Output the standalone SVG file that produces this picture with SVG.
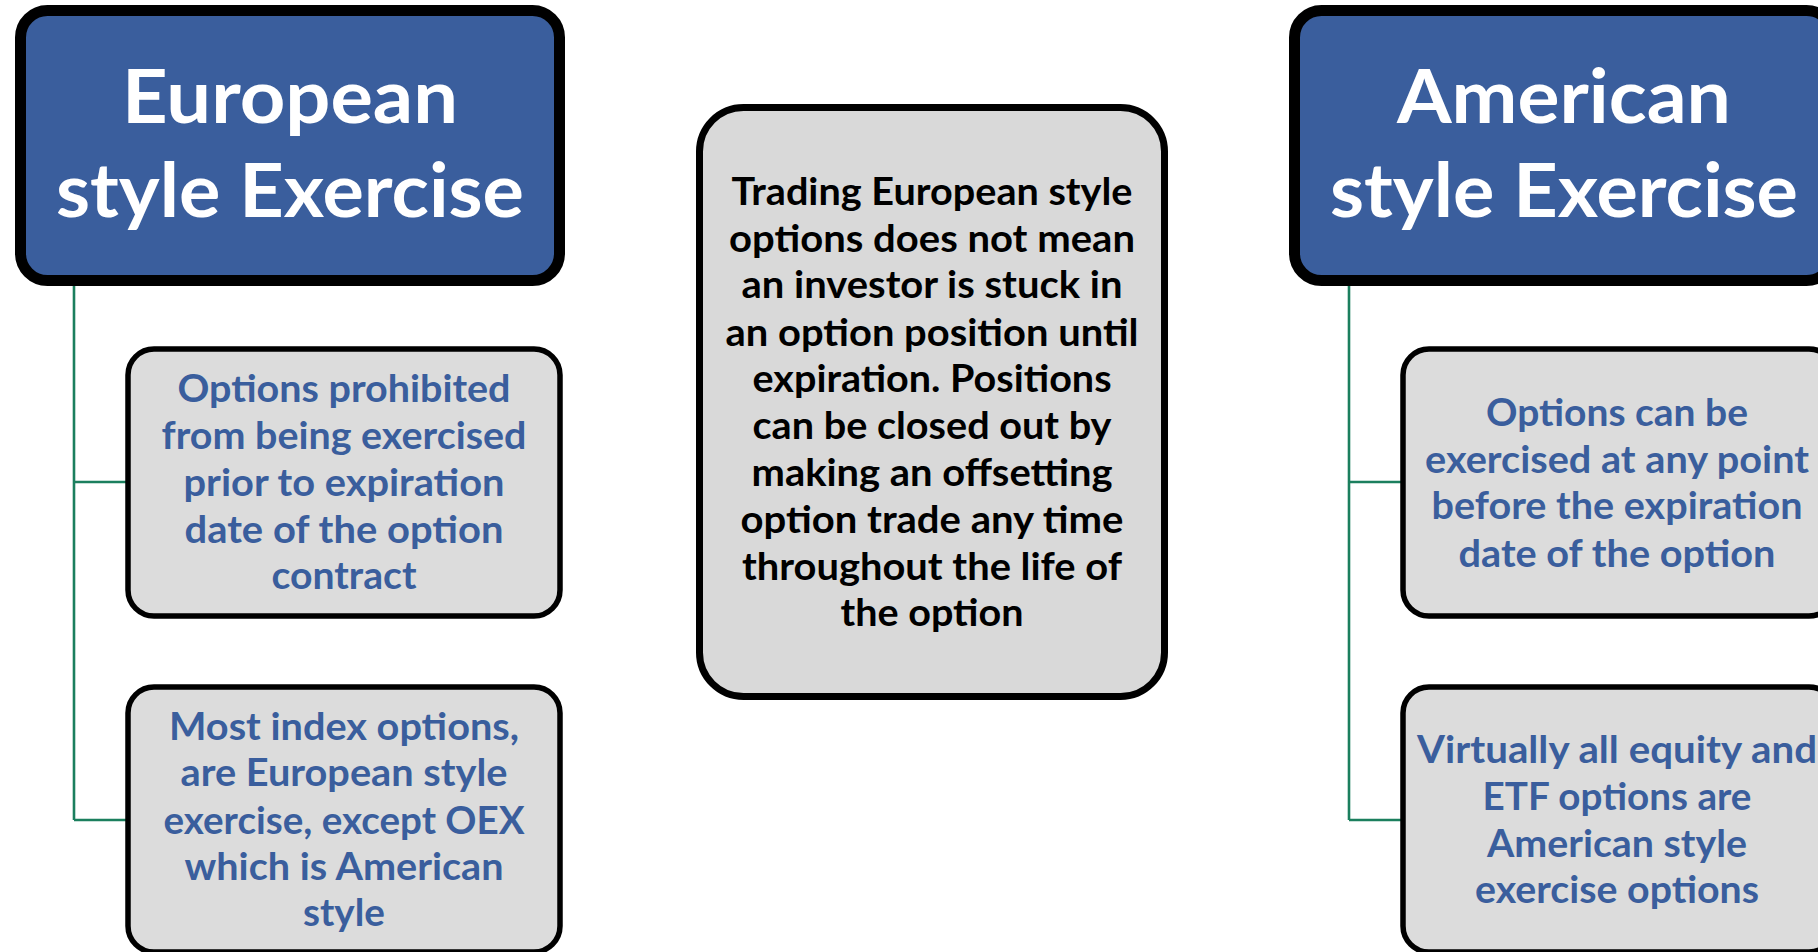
<svg xmlns="http://www.w3.org/2000/svg" width="1818" height="952" viewBox="0 0 1818 952">
  <style>
    .head { fill: #3a5e9d; stroke: #000; stroke-width: 11; }
    .sub { fill: #dcdcdc; stroke: #000; stroke-width: 5.5; }
    .mid { fill: #d9d9d9; stroke: #000; stroke-width: 7; }
    .link { fill: none; stroke: #1b7f5e; stroke-width: 2.6; }
    text { font-family: Lato, "Liberation Sans", sans-serif; font-weight: bold; text-anchor: middle; }
    .ht { fill: #fff; font-size: 75px; }
    .st { fill: #3a5e9d; font-size: 38px; }
    .mt { fill: #000; font-size: 38px; }
  </style>

  <g id="connectors">
    <path class="link" d="M74,282 V820 M74,482 H128 M74,820 H128"/>
    <path class="link" d="M1349,282 V820 M1349,482 H1403 M1349,820 H1403"/>
  </g>

  <g id="european-header">
    <rect class="head" x="20.5" y="10.5" width="539" height="270" rx="27"/>
    <text class="ht" x="290" y="123" textLength="336" lengthAdjust="spacingAndGlyphs">European</text>
    <text class="ht" x="290" y="217" textLength="468" lengthAdjust="spacingAndGlyphs">style Exercise</text>
  </g>

  <g id="european-prohibited">
    <rect class="sub" x="128" y="349" width="432" height="267" rx="26"/>
    <text class="st" x="344" y="402" textLength="333" lengthAdjust="spacingAndGlyphs">Options prohibited</text>
    <text class="st" x="344" y="449" textLength="365" lengthAdjust="spacingAndGlyphs">from being exercised</text>
    <text class="st" x="344" y="496" textLength="321" lengthAdjust="spacingAndGlyphs">prior to expiration</text>
    <text class="st" x="344" y="543" textLength="319" lengthAdjust="spacingAndGlyphs">date of the option</text>
    <text class="st" x="344" y="589" textLength="145" lengthAdjust="spacingAndGlyphs">contract</text>
  </g>

  <g id="european-index">
    <rect class="sub" x="128" y="687" width="432" height="265" rx="26"/>
    <text class="st" x="344" y="740" textLength="350" lengthAdjust="spacingAndGlyphs">Most index options,</text>
    <text class="st" x="344" y="786" textLength="327" lengthAdjust="spacingAndGlyphs">are European style</text>
    <text class="st" x="344" y="834" textLength="361" lengthAdjust="spacingAndGlyphs">exercise, except OEX</text>
    <text class="st" x="344" y="880" textLength="319" lengthAdjust="spacingAndGlyphs">which is American</text>
    <text class="st" x="344" y="926" textLength="82" lengthAdjust="spacingAndGlyphs">style</text>
  </g>

  <g id="trading-note">
    <rect class="mid" x="699.5" y="107.5" width="465" height="589" rx="44"/>
    <text class="mt" x="932" y="205" textLength="401" lengthAdjust="spacingAndGlyphs">Trading European style</text>
    <text class="mt" x="932" y="252" textLength="406" lengthAdjust="spacingAndGlyphs">options does not mean</text>
    <text class="mt" x="932" y="298" textLength="381" lengthAdjust="spacingAndGlyphs">an investor is stuck in</text>
    <text class="mt" x="932" y="346" textLength="413" lengthAdjust="spacingAndGlyphs">an option position until</text>
    <text class="mt" x="932" y="392" textLength="359" lengthAdjust="spacingAndGlyphs">expiration. Positions</text>
    <text class="mt" x="932" y="439" textLength="359" lengthAdjust="spacingAndGlyphs">can be closed out by</text>
    <text class="mt" x="932" y="486" textLength="361" lengthAdjust="spacingAndGlyphs">making an offsetting</text>
    <text class="mt" x="932" y="533" textLength="383" lengthAdjust="spacingAndGlyphs">option trade any time</text>
    <text class="mt" x="932" y="580" textLength="380" lengthAdjust="spacingAndGlyphs">throughout the life of</text>
    <text class="mt" x="932" y="626" textLength="183" lengthAdjust="spacingAndGlyphs">the option</text>
  </g>

  <g id="american-header">
    <rect class="head" x="1294.5" y="10.5" width="539" height="270" rx="27"/>
    <text class="ht" x="1564" y="123" textLength="334" lengthAdjust="spacingAndGlyphs">American</text>
    <text class="ht" x="1564" y="217" textLength="468" lengthAdjust="spacingAndGlyphs">style Exercise</text>
  </g>

  <g id="american-anytime">
    <rect class="sub" x="1403" y="349" width="432" height="267" rx="26"/>
    <text class="st" x="1617" y="426" textLength="262" lengthAdjust="spacingAndGlyphs">Options can be</text>
    <text class="st" x="1617" y="473" textLength="384" lengthAdjust="spacingAndGlyphs">exercised at any point</text>
    <text class="st" x="1617" y="519" textLength="371" lengthAdjust="spacingAndGlyphs">before the expiration</text>
    <text class="st" x="1617" y="567" textLength="317" lengthAdjust="spacingAndGlyphs">date of the option</text>
  </g>

  <g id="american-equity">
    <rect class="sub" x="1403" y="687" width="432" height="265" rx="26"/>
    <text class="st" x="1617" y="763" textLength="400" lengthAdjust="spacingAndGlyphs">Virtually all equity and</text>
    <text class="st" x="1617" y="810" textLength="269" lengthAdjust="spacingAndGlyphs">ETF options are</text>
    <text class="st" x="1617" y="857" textLength="260" lengthAdjust="spacingAndGlyphs">American style</text>
    <text class="st" x="1617" y="903" textLength="284" lengthAdjust="spacingAndGlyphs">exercise options</text>
  </g>
</svg>
